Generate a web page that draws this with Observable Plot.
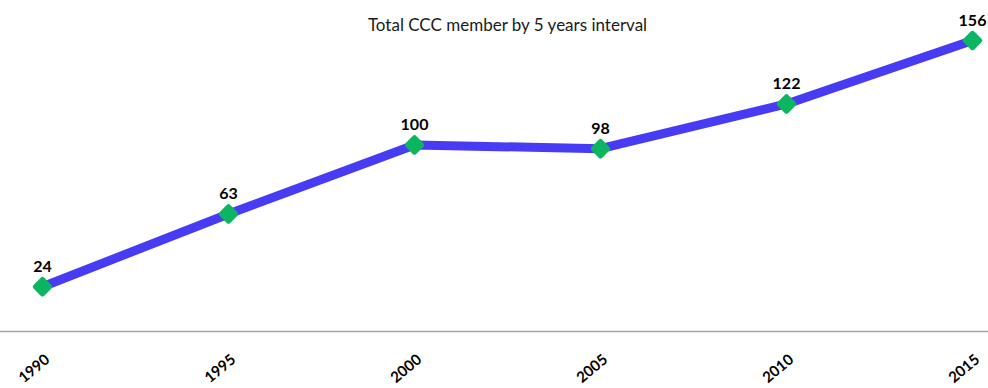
<!DOCTYPE html>
<html>
<head>
<meta charset="utf-8">
<script src="https://cdn.jsdelivr.net/npm/d3@7"></script>
<script src="https://cdn.jsdelivr.net/npm/@observablehq/plot@0.6"></script>
<style>
  html, body { margin: 0; padding: 0; background: #fff; }
  #chart svg { display: block; overflow: visible; }
</style>
</head>
<body>
<div id="chart"></div>
<script>
const titleText = "Total CCC member by 5 years interval";
const years = [1990, 1995, 2000, 2005, 2010, 2015];
const members = [24, 63, 100, 98, 122, 156];

const data = years.map((year, i) => ({year, members: members[i]}));

const chart = Plot.plot({
  width: 988,
  height: 388,
  marginLeft: 42,
  marginRight: 16,
  marginTop: 40,
  marginBottom: 57,
  style: {fontFamily: "Lato, 'Open Sans', sans-serif", background: "#fff", overflow: "visible"},
  x: {domain: [1990, 2015]},
  y: {domain: [0, 156], axis: null},
  marks: [
    Plot.ruleY([0], {stroke: "#a6a6a6", strokeWidth: 1.5, insetLeft: -42, insetRight: -16}),
    Plot.axisX({
      ticks: years,
      tickFormat: d => String(d),
      tickSize: 0,
      tickRotate: -40,
      tickPadding: 0,
      dy: 26,
      dx: 5,
      fontSize: 15,
      fontWeight: "bold",
      fill: "#000",
      label: null
    }),
    Plot.line(data, {x: "year", y: "members", stroke: "#473bf3", strokeWidth: 9, strokeLinejoin: "round"}),
    Plot.dot(data, {x: "year", y: "members", symbol: "diamond2", r: 6.5, fill: "#0db562", stroke: "#0db562", strokeWidth: 5, strokeLinejoin: "round"}),
    Plot.text(data, {x: "year", y: "members", text: d => String(d.members), dy: -20, fontSize: 16, fontWeight: "bold", fill: "#000"}),
    Plot.text([titleText], {frameAnchor: "top", dy: -22, text: d => d, fontSize: 17, fill: "#1a1a1a"})
  ]
});
document.getElementById("chart").appendChild(chart);
</script>
</body>
</html>
